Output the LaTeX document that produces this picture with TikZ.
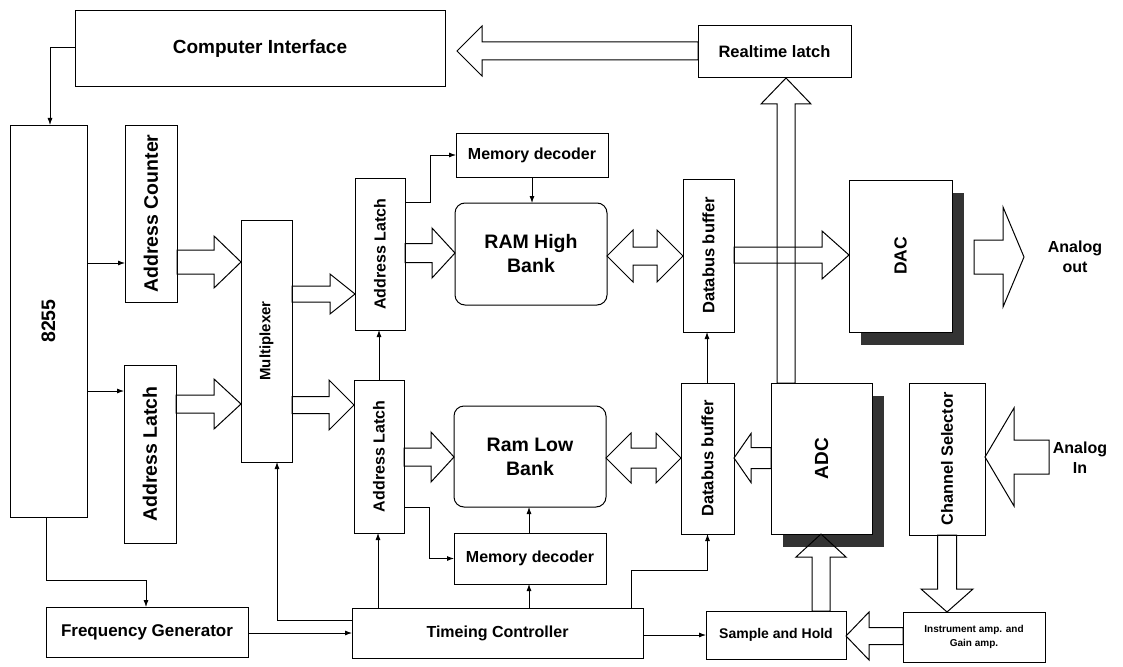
\documentclass[tikz,border=0pt]{standalone}
\usepackage{fontspec}
\setmainfont{Liberation Sans}
\usepackage{graphicx}
\usetikzlibrary{calc,arrows.meta,backgrounds}

\tikzset{%
    hw_block/.style={%
        rectangle, draw=black, line width=1pt, fill=white, inner sep=0pt, outer sep=0pt, align=center, text centered
    },
    mem_block/.style={%
        hw_block, rounded corners=10pt
    },
    fs/.style 2 args={%
        font=\bfseries\fontsize{#1}{#2}\selectfont
    },
    wire/.style={%
        ->, line width=0.8pt
    },
    bus/.style={%
        draw, line width=1pt, line join=miter
    },
    shadow_fill/.style={%
        fill=black!80
    },
    txt/.style={%
        align=center, inner sep=0pt
    },
}

% hollow bus arrows: from point, to point, shaft half width, head half width, head length
\newcommand{\hbus}[5]{%
    \draw[bus] let \p1=#1, \p2=#2, \n1={sign(\x2-\x1)} in
        ({\x1},{\y1+#3}) -- ({\x2-(\n1)*#5},{\y1+#3}) -- ({\x2-(\n1)*#5},{\y1+#4}) -- ({\x2},{\y1})
        -- ({\x2-(\n1)*#5},{\y1-#4}) -- ({\x2-(\n1)*#5},{\y1-#3}) -- ({\x1},{\y1-#3}) -- cycle;
}
\newcommand{\vbus}[5]{%
    \draw[bus] let \p1=#1, \p2=#2, \n1={sign(\y2-\y1)} in
        ({\x1+#3},{\y1}) -- ({\x1+#3},{\y2-(\n1)*#5}) -- ({\x1+#4},{\y2-(\n1)*#5}) -- ({\x1},{\y2})
        -- ({\x1-#4},{\y2-(\n1)*#5}) -- ({\x1-#3},{\y2-(\n1)*#5}) -- ({\x1-#3},{\y1}) -- cycle;
}
\newcommand{\dbus}[5]{%
    \draw[bus] let \p1=#1, \p2=#2 in
        ({\x1},{\y1}) -- ({\x1+#5},{\y1+#4}) -- ({\x1+#5},{\y1+#3}) -- ({\x2-#5},{\y1+#3}) -- ({\x2-#5},{\y1+#4}) -- ({\x2},{\y1})
        -- ({\x2-#5},{\y1-#4}) -- ({\x2-#5},{\y1-#3}) -- ({\x1+#5},{\y1-#3}) -- ({\x1+#5},{\y1-#4}) -- cycle;
}

\begin{document}
\begin{tikzpicture}[x=1pt, y=-1pt, >={Latex[length=7pt,width=5pt]}]
    \useasboundingbox (0,0) rectangle (1123,666);

    \node[hw_block, fs={19}{23}, minimum width=370pt, minimum height=76pt] (ci) at (260,49) {Computer Interface};
    \node[hw_block, fs={16.5}{20}, minimum width=153pt, minimum height=52pt] (rl) at (774.5,52) {Realtime latch};
    \node[hw_block, fs={19.5}{23}, minimum width=77pt, minimum height=392pt] (p8255) at (48.5,321) {\rotatebox{90}{8255}};
    \node[hw_block, fs={19.5}{23}, minimum width=52pt, minimum height=177pt] (ac) at (151,213.5) {\rotatebox{90}{Address Counter}};
    \node[hw_block, fs={19.5}{23}, minimum width=52pt, minimum height=178pt] (all) at (150,454) {\rotatebox{90}{Address Latch}};
    \node[hw_block, fs={15}{18}, minimum width=51pt, minimum height=242pt] (mux) at (266.5,341) {\rotatebox{90}{Multiplexer}};
    \node[hw_block, fs={16}{19}, minimum width=50pt, minimum height=152pt] (alt) at (380,254) {\rotatebox{90}{Address Latch}};
    \node[hw_block, fs={16}{19}, minimum width=50pt, minimum height=153pt] (alb) at (379,456.5) {\rotatebox{90}{Address Latch}};
    \node[hw_block, fs={16}{19}, minimum width=152pt, minimum height=44pt] (mdt) at (532,155) {Memory decoder};
    \node[hw_block, fs={16}{19}, minimum width=152pt, minimum height=51pt] (mdb) at (530,558.5) {Memory decoder};
    \node[mem_block, fs={19.5}{24}, minimum width=152pt, minimum height=102pt] (ramh) at (531,254) {RAM High\\Bank};
    \node[mem_block, fs={19.5}{24}, minimum width=152pt, minimum height=101pt] (raml) at (530,456.5) {Ram Low\\Bank};
    \node[hw_block, fs={16.5}{20}, minimum width=51pt, minimum height=153pt] (dbt) at (708.5,255.5) {\rotatebox{90}{Databus buffer}};
    \node[hw_block, fs={16.5}{20}, minimum width=53pt, minimum height=151pt] (dbb) at (707.5,458.5) {\rotatebox{90}{Databus buffer}};
    \node[hw_block, fs={17.5}{21}, minimum width=103pt, minimum height=152pt] (dac) at (900.5,256) {\rotatebox{90}{DAC}};
    \node[hw_block, fs={19}{23}, minimum width=101pt, minimum height=151pt] (adc) at (821.5,458.5) {\rotatebox{90}{ADC}};
    \node[hw_block, fs={16.3}{20}, minimum width=76pt, minimum height=152pt] (cs) at (947,459) {\rotatebox{90}{Channel Selector}};
    \node[hw_block, fs={10}{14}, minimum width=142pt, minimum height=50pt] (ia) at (974,637) {Instrument amp. and\\Gain amp.};
    \node[hw_block, fs={14}{17}, minimum width=140pt, minimum height=48pt] (sh) at (776,635) {Sample and Hold};
    \node[hw_block, fs={16}{19}, minimum width=291pt, minimum height=50pt] (tc) at (497.5,633) {Timeing Controller};
    \node[hw_block, fs={17}{20}, minimum width=202pt, minimum height=50pt] (fg) at (147,632) {Frequency Generator};
    \node[txt, fs={16}{20}] (aout) at (1075,257) {Analog\\out};
    \node[txt, fs={16}{20}] (ain) at (1080,458) {Analog\\In};
    \coordinate (aout_start) at (974,257);
    \coordinate (aout_end) at (1024,257);
    \coordinate (ain_start) at (1049,457);

    \begin{scope}[on background layer]
        \fill[shadow_fill] ([shift={(12,13)}]dac.north west) rectangle ([shift={(12,13)}]dac.south east);
        \fill[shadow_fill] ([shift={(12,13)}]adc.north west) rectangle ([shift={(12,13)}]adc.south east);
    \end{scope}

    % control lines
    \draw[wire] (ci.west |- 0,47) -| (50,0 |- p8255.north);
    \draw[wire] (p8255.east |- 0,263) -- (ac.west |- 0,263);
    \draw[wire] (p8255.east |- 0,391) -- (all.west |- 0,391);
    \draw[wire] (46,0 |- p8255.south) -- (46,580) -| (146,0 |- fg.north);
    \draw[wire] (fg.east |- 0,633) -- (tc.west |- 0,633);
    \draw[wire] (tc.west |- 0,620) -| (277,0 |- mux.south);
    \draw[wire] (378,0 |- tc.north) -- (378,0 |- alb.south);
    \draw[wire] (379,0 |- alb.north) -- (379,0 |- alt.south);
    \draw[wire] (alt.east |- 0,202) -- (430,202) |- (mdt.west);
    \draw[wire] (532,0 |- mdt.south) -- (532,0 |- ramh.north);
    \draw[wire] (alb.east |- 0,507) -- (429,507) |- (mdb.west);
    \draw[wire] (529,0 |- mdb.north) -- (529,0 |- raml.south);
    \draw[wire] (529,0 |- tc.north) -- (529,0 |- mdb.south);
    \draw[wire] (631,0 |- tc.north) |- (dbb.south |- 0,570) -- (dbb.south);
    \draw[wire] (707,0 |- dbb.north) -- (707,0 |- dbt.south);
    \draw[wire] (tc.east |- 0,635) -- (sh.west |- 0,635);

    % data buses
    \hbus{(rl.west |- 0,51)}{($(ci.east)+(12,0)$)}{9pt}{25pt}{25pt}
    \vbus{(786,0 |- adc.north)}{(786,0 |- rl.south)}{9pt}{25pt}{26pt}
    \hbus{(ac.east |- 0,262)}{(mux.west)}{12pt}{26pt}{27pt}
    \hbus{(all.east |- 0,404)}{(mux.west)}{9pt}{25pt}{27pt}
    \hbus{(mux.east |- 0,294)}{(alt.west)}{8pt}{20pt}{25pt}
    \hbus{(mux.east |- 0,405)}{(alb.west)}{8.5pt}{25pt}{25pt}
    \hbus{(alt.east |- 0,253)}{(ramh.west)}{9.5pt}{25pt}{23pt}
    \hbus{(alb.east |- 0,457)}{(raml.west)}{9pt}{25pt}{23pt}
    \dbus{(ramh.east |- 0,256)}{(dbt.west)}{9pt}{26pt}{26pt}
    \dbus{(raml.east |- 0,458)}{(dbb.west)}{10pt}{25pt}{25pt}
    \hbus{(dbt.east |- 0,255)}{(dac.west)}{8pt}{24pt}{27pt}
    \hbus{(adc.west |- 0,458)}{(dbb.east)}{10.5pt}{24.5pt}{17pt}
    \hbus{(aout_start)}{(aout_end)}{17pt}{50pt}{21pt}
    \hbus{(ain_start)}{(cs.east)}{17pt}{49pt}{29pt}
    \vbus{(947,0 |- cs.south)}{(947,0 |- ia.north)}{9.5pt}{26pt}{23pt}
    \hbus{(ia.west |- 0,636)}{(sh.east)}{8.5pt}{24pt}{23pt}
    \vbus{(821,0 |- sh.north)}{(821,0 |- adc.south)}{9pt}{25pt}{23pt}
\end{tikzpicture}
\end{document}
